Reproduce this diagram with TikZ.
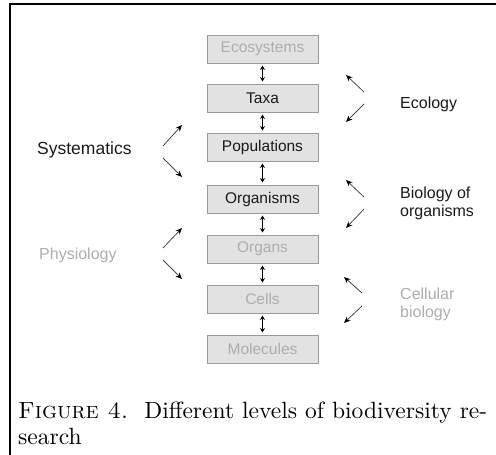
\documentclass[tikz,border=0pt]{standalone}
\usepackage{graphicx}
\usepackage{fontspec}
\newfontfamily\arial{Liberation Sans}
\usetikzlibrary{arrows.meta}
\definecolor{boxfill}{HTML}{E2E2E2}
\definecolor{boxline}{HTML}{9A9A9A}
\definecolor{lighttext}{HTML}{ADADAD}
\definecolor{darktext}{HTML}{1A1A1A}
\definecolor{arrowline}{HTML}{4A4A4A}
\newcommand{\captxt}[1]{\scalebox{2.35}{\fontsize{10}{12}\selectfont #1}}
\begin{document}
\begin{tikzpicture}[x=1pt,y=-1pt,
 level/.style={draw=boxline, fill=boxfill, line width=1pt, minimum width=111pt, minimum height=28pt, inner sep=0pt, font=\arial\fontsize{15.5}{18}\selectfont},
 dark/.style={text=darktext},
 light/.style={text=lighttext},
 vlink/.style={{Stealth[length=4.5pt,width=5pt]}-{Stealth[length=4.5pt,width=5pt]}, line width=1pt, shorten <=2pt, shorten >=2pt},
 diag/.style={-{Stealth[length=6.5pt,width=5.5pt,black]}, draw=arrowline, line width=0.8pt},
 side/.style={font=\arial\fontsize{16}{19}\selectfont, anchor=base west, inner sep=0pt},
 capt/.style={anchor=base west, inner sep=0pt},
]
\useasboundingbox (0,0) rectangle (496,455);
\draw[line width=2pt] (10,455) -- (10,4) -- (496,4);

\node[level,light] (eco) at (262.5,49) {Ecosystems};
\node[level,dark] (taxa) at (262.5,98) {Taxa};
\node[level,dark] (pop) at (262.5,147) {Populations};
\node[level,dark] (org) at (262.5,199) {Organisms};
\node[level,light] (orgn) at (262.5,249) {Organs};
\node[level,light] (cell) at (262.5,299) {Cells};
\node[level,light] (mol) at (262.5,349) {Molecules};

\draw[vlink] (eco) -- (taxa);
\draw[vlink] (taxa) -- (pop);
\draw[vlink] (pop) -- (org);
\draw[vlink] (org) -- (orgn);
\draw[vlink] (orgn) -- (cell);
\draw[vlink] (cell) -- (mol);

\node[side,text=darktext,font=\arial\fontsize{17.5}{20}\selectfont] (sys) at (37,154) {Systematics};
\node[side,text=lighttext] (phy) at (39,259) {Physiology};
\node[side,text=darktext] (eco1) at (400,108) {Ecology};
\node[side,text=darktext] (bio1) at (400,198) {Biology of};
\node[side,text=darktext] (bio2) at (400,216) {organisms};
\node[side,text=lighttext] (cel1) at (400,299) {Cellular};
\node[side,text=lighttext] (cel2) at (400,317) {biology};

\coordinate (s0) at (163,146); \coordinate (s1) at (182,125);
\coordinate (s2) at (163,158); \coordinate (s3) at (182,177);
\coordinate (p0) at (163,248); \coordinate (p1) at (182,228);
\coordinate (p2) at (163,260); \coordinate (p3) at (182,279);
\coordinate (e0) at (364,92);  \coordinate (e1) at (346,75);
\coordinate (e2) at (364,104); \coordinate (e3) at (346,122);
\coordinate (b0) at (364,197); \coordinate (b1) at (346,180);
\coordinate (b2) at (364,209); \coordinate (b3) at (346,228);
\coordinate (c0) at (362,293); \coordinate (c1) at (344,277);
\coordinate (c2) at (362,306); \coordinate (c3) at (344,323);
\draw[diag] (s0) -- (s1);
\draw[diag] (s2) -- (s3);
\draw[diag] (p0) -- (p1);
\draw[diag] (p2) -- (p3);
\draw[diag] (e0) -- (e1);
\draw[diag] (e2) -- (e3);
\draw[diag] (b0) -- (b1);
\draw[diag] (b2) -- (b3);
\draw[diag] (c0) -- (c1);
\draw[diag] (c2) -- (c3);

\node[capt] (cap1) at (18,418) {\captxt{\makebox[199.6pt][s]{\textsc{Figure 4.}\ \ Different levels of biodiversity re-}}};
\node[capt] (cap2) at (18,444) {\captxt{search}};
\end{tikzpicture}
\end{document}
